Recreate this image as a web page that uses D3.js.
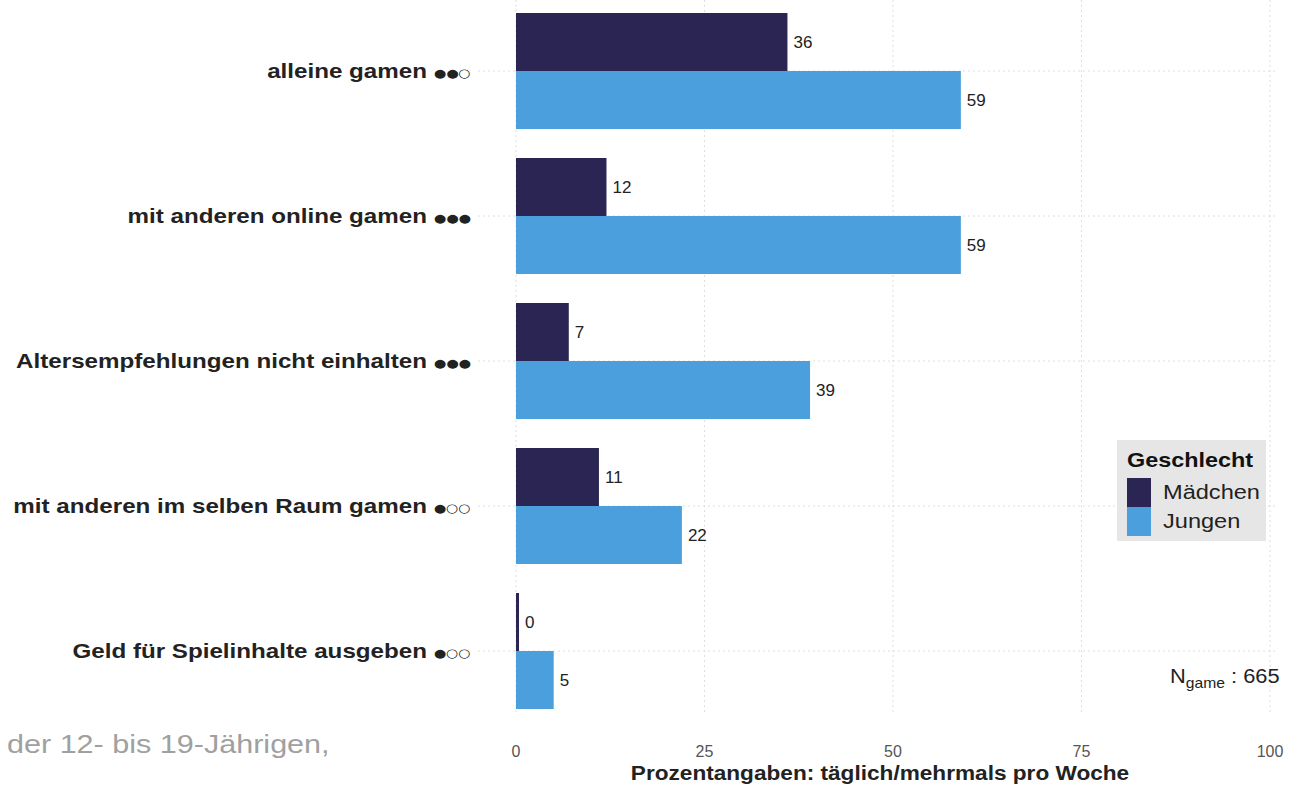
<!DOCTYPE html>
<html>
<head>
<meta charset="utf-8">
<script src="https://cdn.jsdelivr.net/npm/d3@7"></script>
<style>
  html, body { margin: 0; padding: 0; background: #fff; }
  svg { display: block; }
</style>
</head>
<body>
<svg id="chart" width="1301" height="788"></svg>
<script>
// Activities (top to bottom) with their frequency rating marks
const categories = [
  "alleine gamen",
  "mit anderen online gamen",
  "Altersempfehlungen nicht einhalten",
  "mit anderen im selben Raum gamen",
  "Geld für Spielinhalte ausgeben"
];
const ratings = ["●●○", "●●●", "●●●", "●○○", "●○○"];
const groups = ["Mädchen", "Jungen"];
const maedchen = [36, 12, 7, 11, 0.4];
const jungen = [59, 59, 39, 22, 5];
const xTicks = [0, 25, 50, 75, 100];
const colors = ["#2a2553", "#4a9fdc"];

const svg = d3.select("#chart");
const fontMain = "'Liberation Sans', Arial, sans-serif";

// text group placed at (x, y) and widened horizontally by sx
function wideText(parent, x, y, sx) {
  return parent.append("g")
    .attr("transform", `translate(${x},${y}) scale(${sx},1)`)
    .append("text")
    .attr("font-family", fontMain);
}

const x = d3.scaleLinear().domain([0, 100]).range([516, 1270]);
const y = d3.scalePoint().domain(categories).range([71, 651]);
const step = 145;
const barH = step * 0.8 / 2;

// grid lines
const grid = svg.append("g");
grid.selectAll("line.v").data(xTicks).join("line")
  .attr("x1", d => x(d)).attr("x2", d => x(d))
  .attr("y1", 0).attr("y2", 712)
  .attr("stroke", "#dedede").attr("stroke-width", 1)
  .attr("stroke-dasharray", "2,3");
grid.selectAll("line.h").data(categories).join("line")
  .attr("x1", 478).attr("x2", 1275)
  .attr("y1", d => y(d)).attr("y2", d => y(d))
  .attr("stroke", "#dedede").attr("stroke-width", 1)
  .attr("stroke-dasharray", "2,3");

// bars with value labels
const series = [maedchen, jungen];
series.forEach((vals, gi) => {
  const g = svg.append("g");
  g.selectAll("rect").data(vals).join("rect")
    .attr("x", x(0))
    .attr("y", (d, i) => y(categories[i]) - barH + gi * barH)
    .attr("width", d => x(d) - x(0))
    .attr("height", barH)
    .attr("fill", colors[gi]);
  g.selectAll("text").data(vals).join("text")
    .attr("x", d => x(d) + 6)
    .attr("y", (d, i) => y(categories[i]) - barH / 2 + gi * barH)
    .attr("dy", "0.35em")
    .attr("font-family", fontMain)
    .attr("font-size", 17)
    .attr("fill", "#222")
    .text(d => Math.round(d));
});

// category labels
const cat = svg.append("g");
categories.forEach((c, i) => {
  const t = wideText(cat, 471, y(c), 1.24)
    .attr("dy", "0.35em")
    .attr("text-anchor", "end")
    .attr("font-size", 19.5)
    .attr("font-weight", "bold")
    .attr("fill", "#222");
  t.append("tspan").text(c + "  ");
  t.append("tspan").attr("font-size", 11.5).attr("font-weight", "normal")
    .attr("font-family", "'DejaVu Sans', sans-serif")
    .attr("dy", -1)
    .attr("fill", "#222").text(ratings[i]);
});

// x axis tick labels
svg.append("g").selectAll("text").data(xTicks).join("text")
  .attr("x", d => x(d))
  .attr("y", 757)
  .attr("text-anchor", "middle")
  .attr("font-family", fontMain)
  .attr("font-size", 16)
  .attr("fill", "#555")
  .text(d => d);

// x axis title
wideText(svg, 880, 780, 1.16)
  .attr("text-anchor", "middle")
  .attr("font-size", 19.5)
  .attr("font-weight", "bold")
  .attr("fill", "#222")
  .text("Prozentangaben: täglich/mehrmals pro Woche");

// legend
const lg = svg.append("g");
lg.append("rect").attr("x", 1117).attr("y", 440).attr("width", 149).attr("height", 101)
  .attr("fill", "#e6e6e6");
wideText(lg, 1127, 467, 1.2)
  .attr("font-size", 19.5).attr("font-weight", "bold")
  .attr("fill", "#111").text("Geschlecht");
groups.forEach((gname, i) => {
  lg.append("rect").attr("x", 1127).attr("y", 478 + i * 29).attr("width", 24).attr("height", 29)
    .attr("fill", colors[i]);
  wideText(lg, 1163, 478 + i * 29 + 14.5, 1.21)
    .attr("dy", "0.35em")
    .attr("font-size", 19.5).attr("fill", "#222").text(gname);
});

// sample size note
const n = wideText(svg, 1170, 683, 1.12)
  .attr("font-size", 19.5).attr("fill", "#222");
n.append("tspan").text("N");
n.append("tspan").attr("font-size", 14).attr("dy", 5).text("game");
n.append("tspan").attr("dy", -5).text(" : 665");

// footnote fragment
wideText(svg, 7, 753, 1.175)
  .attr("font-size", 26).attr("fill", "#a0a0a0")
  .text("der 12- bis 19-Jährigen,");
</script>
</body>
</html>
